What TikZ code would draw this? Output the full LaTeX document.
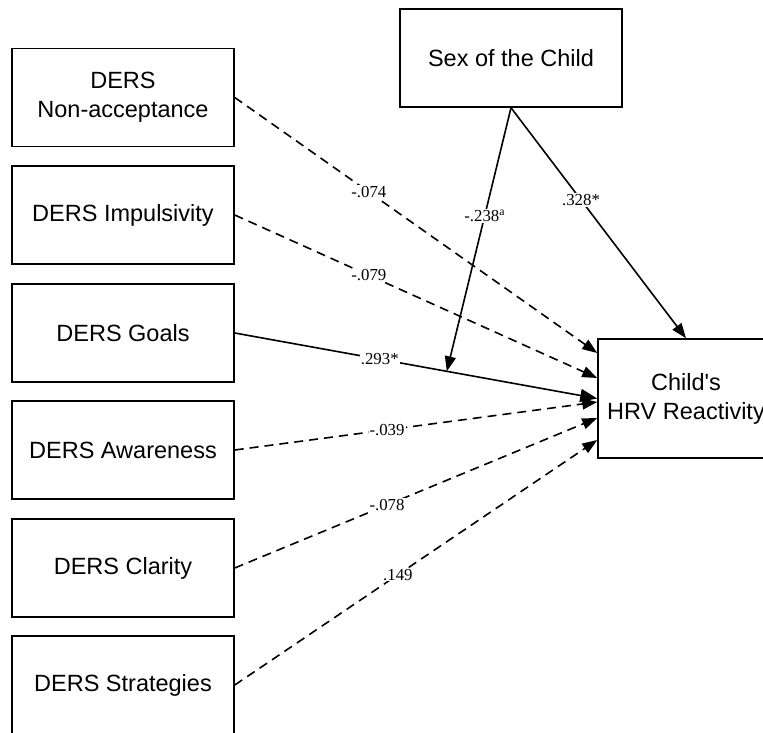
\documentclass[tikz,border=0pt]{standalone}
\usepackage{fontspec}
\setmainfont{Liberation Serif}
\newfontfamily\boxfont{Liberation Sans}
\usetikzlibrary{arrows.meta}
\tikzset{
  var/.style={draw, line width=1.5pt, minimum width=222pt, minimum height=98pt, inner sep=0pt, align=center, font=\boxfont\fontsize{23.5}{29}\selectfont},
  eff/.style={line width=1.6pt, -{Triangle[length=15pt,width=11pt]}},
  ns/.style={eff, dash pattern=on 9pt off 6pt},
  coef/.style={fill=white, inner sep=1pt, font=\fontsize{16.8}{18}\selectfont}
}
\begin{document}
\begin{tikzpicture}[x=1pt,y=-1pt]
\useasboundingbox (0,0) rectangle (763,733);
\node[var] (nonacc) at (123,97.5) {DERS\\Non-acceptance};
\node[var] (impuls) at (123,215) {DERS Impulsivity};
\node[var] (goals) at (123,333) {DERS Goals};
\node[var] (aware) at (123,450) {DERS Awareness};
\node[var] (clar) at (123,568) {DERS Clarity};
\node[var] (strat) at (123,685) {DERS Strategies};
\node[var] (sex) at (511,58) {Sex of the Child};
\node[var, minimum width=176pt, minimum height=119pt] (hrv) at (686,398.5) {Child's\\HRV Reactivity};
% paths to the outcome
\draw[ns] (nonacc.east) -- node[coef, pos=0.37] {-.074} ([yshift=45.5pt]hrv.west);
\draw[ns] (impuls.east) -- node[coef, pos=0.37] {-.079} ([yshift=20.5pt]hrv.west);
\draw[eff, -{Triangle[length=17pt,width=13pt]}] (goals.east) -- node[coef, pos=0.4] {.293*} coordinate[pos=0.585] (mod) (hrv.west);
\draw[ns] (aware.east) -- node[coef, pos=0.42] {-.039} ([yshift=-3.5pt]hrv.west);
\draw[ns] (clar.east) -- node[coef, pos=0.42] {-.078} ([yshift=-19.5pt]hrv.west);
\draw[ns] (strat.east) -- node[coef, pos=0.45] {.149} ([yshift=-41.5pt]hrv.west);
% moderator
\draw[eff] (sex.south) -- node[coef, pos=0.41] {-.238\textsuperscript{a}} (mod);
\draw[eff] (sex.south) -- node[coef, pos=0.4] {.328*} (hrv.north);
\end{tikzpicture}
\end{document}
